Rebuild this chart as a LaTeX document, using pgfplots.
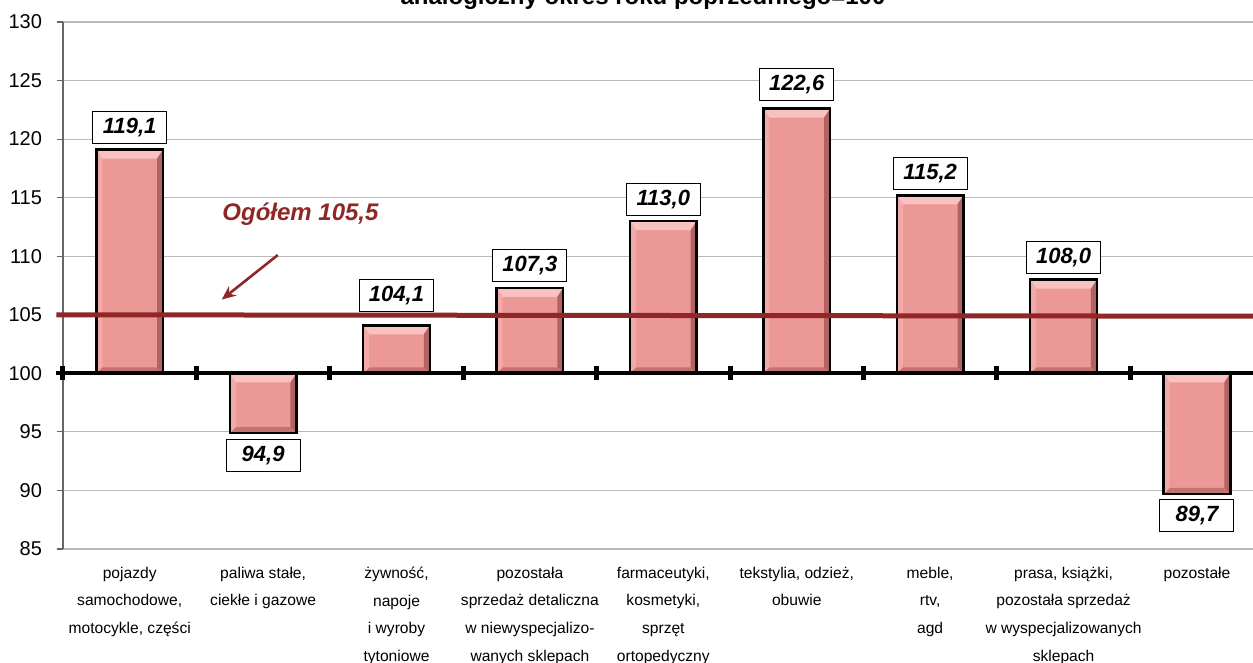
\documentclass[border=0pt]{standalone}
\usepackage{pgfplots}
\pgfplotsset{compat=1.18}
\usepackage{pgfplotstable}
\usepackage{fontspec}
\setmainfont{Liberation Sans}
\usetikzlibrary{arrows.meta}
\definecolor{barfill}{RGB}{236,152,150}
\definecolor{barlight}{RGB}{248,194,192}
\definecolor{bardark}{RGB}{178,98,98}
\definecolor{barbottom}{RGB}{196,114,112}
\definecolor{barleft}{RGB}{241,170,168}
\definecolor{darkred}{RGB}{145,38,38}
\pgfplotstableread{
x v dy
0 119.1 0
1 94.9 0
2 104.1 4
3 107.3 0
4 113.0 0
5 122.6 1
6 115.2 0
7 108.0 0
8 89.7 0
}\data
\pgfplotstableread{
x v
-0.55 105.0
8.42 104.88
}\total
\newcommand\bevpt[3]{\pgfpointadd{\pgfpointanchor{path picture bounding box}{#1}}{\pgfpoint{#2}{#3}}}
\newcommand\bevquad[7]{%
  \pgfsetfillcolor{#1}%
  \pgfpathmoveto{\bevpt{#2}{0pt}{0pt}}%
  \pgfpathlineto{\bevpt{#3}{0pt}{0pt}}%
  \pgfpathlineto{\bevpt{#3}{#4}{#5}}%
  \pgfpathlineto{\bevpt{#2}{#6}{#7}}%
  \pgfpathclose\pgfusepath{fill}}
\tikzset{bevel/.style={path picture={%
  \bevquad{barlight}{north west}{north east}{-3pt}{-4.5pt}{3pt}{-4.5pt}%
  \bevquad{bardark}{north east}{south east}{-3pt}{3pt}{-3pt}{-4.5pt}%
  \bevquad{barbottom}{south east}{south west}{3pt}{3pt}{-3pt}{3pt}%
  \bevquad{barleft}{south west}{north west}{3pt}{-4.5pt}{3pt}{3pt}%
}}}
\newcommand\bevelbar[2]{%
  \addplot[ybar, bar width=0.5, bar shift=0pt, draw=black, line width=1.2pt, bevel,
    restrict x to domain=#1:#2, unbounded coords=discard]
    table[x=x, y expr=\thisrow{v}-100] {\data};}
\begin{document}
\begin{tikzpicture}
\begin{axis}[
  at={(0,0)}, anchor=south west, scale only axis,
  width=595pt, height=263.5pt,
  xmin=-0.5, xmax=8.42, ymin=-15, ymax=30,
  clip=false,
  axis lines*=left,
  x axis line style={draw=none},
  y axis line style={draw=gray!80!black, line width=0.6pt},
  /pgf/number format/assume math mode=true,
  ytick={-15,-10,...,30},
  yticklabel={\pgfmathparse{\tick+100}\pgfmathprintnumber[fixed,precision=0]{\pgfmathresult}},
  yticklabel style={font=\fontsize{10}{12}\selectfont, xshift=-4pt},
  tick align=outside,
  major tick length=3pt,
  ytick style={draw=gray!80!black, line width=0.6pt},
  xtick={0,...,8},
  xtick style={draw=none},
  xticklabels={
    {pojazdy\\samochodowe,\\motocykle, części},
    {paliwa stałe,\\ciekłe i gazowe},
    {żywność,\\napoje\\i wyroby\\tytoniowe},
    {pozostała\\sprzedaż detaliczna\\w niewyspecjalizo-\\wanych sklepach},
    {farmaceutyki,\\kosmetyki,\\sprzęt\\ortopedyczny},
    {tekstylia, odzież,\\obuwie},
    {meble,\\rtv,\\agd},
    {prasa, książki,\\pozostała sprzedaż\\w wyspecjalizowanych\\sklepach},
    {pozostałe}},
  xticklabel style={align=center, anchor=north, font=\fontsize{7.8}{13.8}\selectfont, yshift=-2.5pt},
  ymajorgrids,
  grid style={gray!55, line width=0.6pt},
]
\addplot[ybar, bar width=0.5, bar shift=0pt, fill=barfill, draw=black, line width=1.2pt,
  point meta=y,
  visualization depends on={\thisrow{v} \as \val},
  visualization depends on={\thisrow{dy} \as \dy},
  nodes near coords={\pgfmathprintnumber[fixed,precision=1,zerofill,use comma]{\val}},
  nodes near coords align=vertical,
  every node near coord/.append style={draw=black, line width=0.5pt, fill=white,
    font=\fontsize{11}{13}\selectfont\bfseries\itshape, text=black,
    minimum width=37pt, minimum height=16pt, inner sep=1pt, outer sep=3pt, yshift=\dy pt}
] table[x=x, y expr=\thisrow{v}-100] {\data};
\bevelbar{-0.2}{0.2}
\bevelbar{0.8}{1.2}
\bevelbar{1.8}{2.2}
\bevelbar{2.8}{3.2}
\bevelbar{3.8}{4.2}
\bevelbar{4.8}{5.2}
\bevelbar{5.8}{6.2}
\bevelbar{6.8}{7.2}
\bevelbar{7.8}{8.2}
\draw[line width=2pt] (axis cs:-0.55,0) -- (axis cs:8.42,0);
\pgfplotsinvokeforeach{-0.5,0.5,...,7.5}{
  \draw[line width=2.5pt] (axis cs:#1,-0.6) -- (axis cs:#1,0.6);
}
\addplot[darkred, line width=2.5pt, no marks] table[x=x, y expr=\thisrow{v}-100] {\total};
\node[darkred, font=\fontsize{12}{14}\selectfont\bfseries\itshape] at (axis cs:1.28,13.6) {Ogółem 105,5};
\draw[darkred, line width=1.3pt, -{Stealth[length=7pt,width=6pt]}] (axis cs:1.11,10.1) -- (axis cs:0.69,6.3);
\end{axis}
\node[font=\fontsize{12}{14}\selectfont\bfseries, anchor=base] at (290pt,272pt) {analogiczny okres roku poprzedniego=100};
\pgfresetboundingbox
\path[use as bounding box] (-31.5pt,-57pt) rectangle (595pt,274.5pt);
\end{tikzpicture}
\end{document}
